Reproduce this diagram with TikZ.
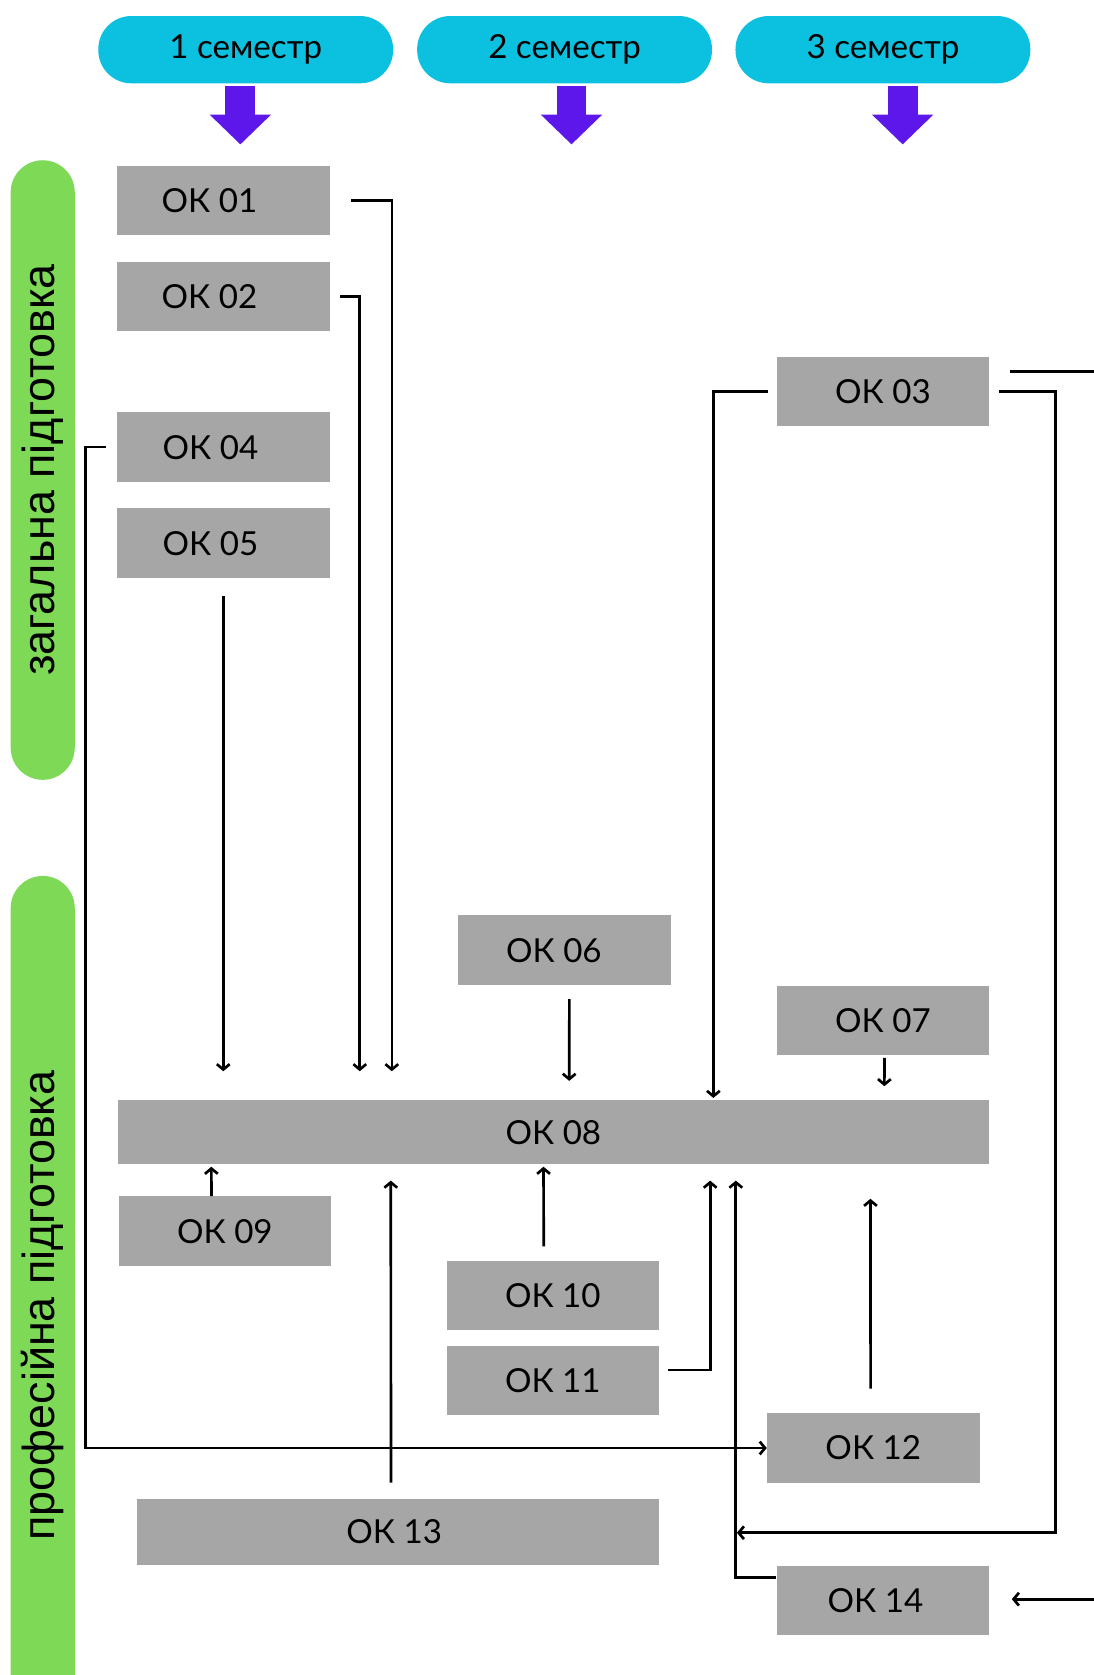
\documentclass[tikz,border=0pt]{standalone}
\usepackage{fontspec}
\usepackage{tikz}
\usepackage{xcolor}
\usetikzlibrary{arrows.meta}
\setmainfont{Lato}
\newfontfamily\sidefont{Liberation Sans}
\definecolor{semcyan}{HTML}{0CC0DF}
\definecolor{sempurple}{HTML}{5E17EB}
\definecolor{sidegreen}{HTML}{7ED957}
\definecolor{boxgray}{HTML}{A6A6A6}
\begin{document}
\begin{tikzpicture}[x=1pt,y=-1pt,
    sem/.style={fill=semcyan,rounded corners=31pt,minimum width=276pt,minimum height=63pt,font=\fontsize{31}{34}\selectfont},
    semarrow/.style={draw=sempurple,line width=28pt,-{Triangle[width=56pt,length=28pt]}},
    ok/.style={fill=boxgray,minimum width=199pt,minimum height=65pt,font=\fontsize{31}{36}\selectfont},
    side/.style={fill=sidegreen,rounded corners=30pt},
    link/.style={draw,line width=2.5pt,-{Straight Barb[length=5pt,width=12pt]}}]

        \clip (0,0) rectangle (1024,1568);

        % semesters
        \node[sem] (s1) at (230,46.5) {1 семестр};
        \node[sem] (s2) at (528.5,46.5) {2 семестр};
        \node[sem] (s3) at (826.5,46.5) {3 семестр};
        \path[semarrow] ([xshift=-5pt,yshift=-2pt]s1.south) -- ++(0,55);
        \path[semarrow] ([xshift=6.5pt,yshift=-2pt]s2.south) -- ++(0,55);
        \path[semarrow] ([xshift=18.5pt,yshift=-2pt]s3.south) -- ++(0,55);

        % side labels
        \path[side] (10,150) rectangle (70,730);
        \node[rotate=90,font=\sidefont\fontsize{42}{44}\selectfont] (g) at (40,440) {загальна підготовка};
        \path[side] (10,820) rectangle (70,1600);
        \node[rotate=90,font=\sidefont\fontsize{42}{44}\selectfont] (p) at (40,1222) {професійна підготовка};

        % boxes
        \node[ok,text depth=0pt] (o1) at (209,187.5) {\hspace*{-26pt}ОК 01};
        \node[ok,text depth=0pt] (o2) at (209,277.5) {\hspace*{-26pt}ОК 02};
        \node[ok,text depth=0pt] (o4) at (209,418.5) {\hspace*{-24pt}ОК 04};
        \node[ok,text depth=0pt] (o5) at (209,508.5) {\hspace*{-24pt}ОК 05};
        \node[ok] (o3) at (826.5,366.5) {ОК 03};
        \node[ok,text depth=0pt] (o6) at (528.5,889.5) {\hspace*{-20pt}ОК 06};
        \node[ok] (o7) at (826.5,955.5) {ОК 07};
        \node[ok,minimum width=816pt,minimum height=60pt] (o8) at (518,1060) {ОК 08};
        \node[ok] (o9) at (210.5,1152.5) {ОК 09};
        \node[ok] (o10) at (517.5,1212.5) {ОК 10};
        \node[ok] (o11) at (517.5,1292.5) {ОК 11};
        \node[ok] (o12) at (817.5,1355.5) {ОК 12};
        \node[ok,minimum width=489pt,minimum height=62pt] (o13) at (372.5,1434) {\hspace*{-7pt}ОК 13};
        \node[ok,text depth=0pt] (o14) at (826.5,1498.5) {\hspace*{-14pt}ОК 14};
        \coordinate (r1) at (1024,348);
        \coordinate (r2) at (1024,1497);

        % into OK 08 from above
        \path[link,shorten >=27pt] ([xshift=20pt]o1.east) -| ([xshift=257pt]o8.north west);
        \path[link,shorten >=27pt] ([xshift=10pt]o2.east) -| ([xshift=227pt]o8.north west);
        \path[link,shorten >=27pt] ([yshift=-17pt]o5.south) -- (o5.south |- o8.north);
        \path[link,shorten >=2pt] ([xshift=-8pt]o3.west) -| ([xshift=558pt]o8.north west);
        \path[link,shorten >=18pt] ([xshift=4.5pt,yshift=-13pt]o6.south) -- ([xshift=423pt]o8.north west);
        \path[link,shorten >=13pt] ([xshift=1.5pt,yshift=-2pt]o7.south) -- ([xshift=718pt]o8.north west);

        % into OK 08 from below
        \path[link,shorten >=2pt] ([xshift=-12.5pt]o9.north) -- ([xshift=88pt]o8.south west);
        \path[link,shorten >=15pt] ([xshift=-6.5pt,yshift=15pt]o13.north) -- ([xshift=256pt]o8.south west);
        \path[link,shorten >=2pt] ([xshift=-8.5pt,yshift=13pt]o10.north) -- ([xshift=399pt]o8.south west);
        \path[link,shorten >=15pt] ([xshift=8pt,yshift=10pt]o11.east) -| ([xshift=555pt]o8.south west);
        \path[link,shorten >=15pt] ([yshift=21.5pt]o14.west) -| ([xshift=579pt]o8.south west);
        \path[link,shorten >=32pt] ([xshift=-2.5pt,yshift=23pt]o12.north) -- ([xshift=705pt]o8.south west);

        % others
        \path[link] ([xshift=-10pt]o4.west) -- ++(-19,0) |- (o12.west);
        \path[link] ([xshift=9pt]o3.east) -- ++(53,0) |- ([xshift=-37pt,yshift=31pt]o14.north west);
        \path[draw,line width=2.5pt] ([xshift=19pt,yshift=18.5pt]o3.east) -- (r1);
        \path[link] (r2) -- ([xshift=21pt,yshift=1.5pt]o14.east);
    \end{tikzpicture}
\end{document}
